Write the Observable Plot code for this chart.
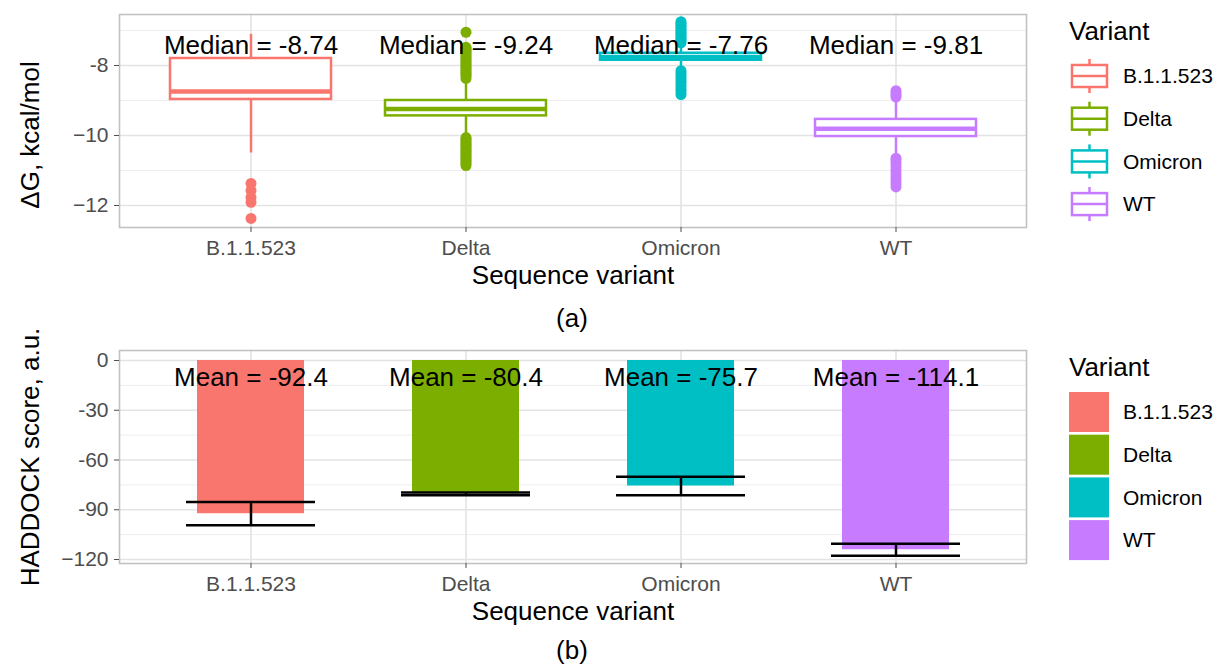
<!DOCTYPE html>
<html><head><meta charset="utf-8">
<script src="https://cdn.jsdelivr.net/npm/d3@7"></script>
<script src="https://cdn.jsdelivr.net/npm/@observablehq/plot@0.6"></script>
<style>
body{margin:0;background:#fff;font-family:"Liberation Sans",Arial,sans-serif;}
#root{position:relative;width:1216px;height:666px;overflow:hidden;background:#fff;}
.panel{position:absolute;left:0;}
.cap{position:absolute;font-size:26px;color:#000;transform:translate(-50%,-50%);white-space:nowrap;}
.leg{position:absolute;left:1050px;}
</style></head><body><div id="root"></div>
<script>
// ---------- data ----------
const variants = ["B.1.1.523", "Delta", "Omicron", "WT"];
const colors = ["#F8766D", "#7CAE00", "#00BFC4", "#C77CFF"];

// panel (a): binding free energy boxplots
const q1 = [-8.97, -9.44, -7.85, -10.03];
const medians = [-8.74, -9.24, -7.76, -9.81];
const q3 = [-7.80, -9.00, -7.65, -9.54];
const whiskerLow = [-10.50, -10.00, -8.08, -10.57];
const whiskerHigh = [-7.11, -8.45, -7.40, -9.00];
const outliersB = [-11.37, -11.57, -11.77, -11.91, -12.37];
const outliersDelta = [-7.05, -7.48, -7.52, -7.56, -7.60, -7.65, -7.70, -7.75, -7.80, -7.85, -7.90, -7.95, -8.00, -8.05, -8.10, -8.15, -8.20, -8.25, -8.30, -8.37,
  -10.06, -10.10, -10.15, -10.20, -10.25, -10.30, -10.35, -10.40, -10.45, -10.50, -10.55, -10.60, -10.65, -10.70, -10.75, -10.80, -10.86];
const outliersOmicron = [-6.75, -6.80, -6.85, -6.90, -6.95, -7.00, -7.05, -7.10, -7.15, -7.20, -7.25, -7.30, -7.35,
  -8.15, -8.22, -8.30, -8.37, -8.45, -8.52, -8.60, -8.68, -8.76, -8.83];
const outliersWT = [-8.72, -8.78, -8.84, -8.90, -10.65, -10.72, -10.80, -10.90, -11.00, -11.10, -11.20, -11.30, -11.38, -11.47];
const aTicks = [-12, -10, -8];
const aTickLabels = ["\u221212", "\u221210", "-8"];
const aMinor = [-11, -9, -7];

// panel (b): HADDOCK scores
const means = [-92.4, -80.4, -75.7, -114.1];
const errLow = [-99.4, -81.2, -81.3, -117.7];
const errHigh = [-85.4, -79.6, -70.1, -110.5];
const bTicks = [-120, -90, -60, -30, 0];
const bTickLabels = ["\u2212120", "-90", "-60", "-30", "0"];
const bMinor = [-105, -75, -45, -15];

const xTitle = "Sequence variant";
const aTitle = "\u0394G, kcal/mol";
const bTitle = "HADDOCK score, a.u.";
const legendTitle = "Variant";

// ---------- tables ----------
const boxData = variants.map((v, i) => ({variant: v, q1: q1[i], median: medians[i], q3: q3[i], lo: whiskerLow[i], hi: whiskerHigh[i]}));
const outlierLists = [outliersB, outliersDelta, outliersOmicron, outliersWT];
const outlierData = variants.flatMap((v, i) => outlierLists[i].map(value => ({variant: v, value})));
const hData = variants.map((v, i) => ({variant: v, mean: means[i], lo: errLow[i], hi: errHigh[i]}));

const FONT = "Liberation Sans, Arial, Helvetica, sans-serif";
const colorScale = {type: "ordinal", domain: variants, range: colors};

function panel({yDomain, ticks, tickLabels, minor, marks, yTitle, titleDy}) {
  return Plot.plot({
    width: 1040, height: 290,
    marginLeft: 119, marginRight: 14, marginTop: 14, marginBottom: 63,
    style: {fontFamily: FONT, background: "transparent", overflow: "visible"},
    x: {type: "band", domain: variants, paddingInner: 0, paddingOuter: 0.1, axis: null},
    y: {domain: yDomain, axis: null},
    color: colorScale,
    marks: [
      Plot.gridY(minor, {stroke: "#ededed", strokeOpacity: 1, strokeWidth: 1}),
      Plot.gridY(ticks, {stroke: "#e3e3e3", strokeOpacity: 1, strokeWidth: 1.6}),
      Plot.gridX(variants, {stroke: "#e3e3e3", strokeOpacity: 1, strokeWidth: 1.6}),
      ...marks,
      Plot.frame({stroke: "#c2c2c2", strokeWidth: 1.6}),
      Plot.axisY(ticks, {label: null, tickFormat: d => tickLabels[ticks.indexOf(d)], tickSize: 5, tickPadding: 6, fontSize: 21, color: "#4d4d4d"}),
      Plot.axisX(variants, {label: null, tickSize: 5, tickPadding: 8, fontSize: 21, color: "#4d4d4d"}),
      Plot.text([yTitle], {frameAnchor: "left", textAnchor: "middle", lineAnchor: "middle", dx: -89, dy: titleDy, rotate: -90, fontSize: 26, fill: "#000"}),
      Plot.text([xTitle], {frameAnchor: "bottom", textAnchor: "middle", lineAnchor: "middle", dy: 48, fontSize: 26, fill: "#000"})
    ]
  });
}

const root = document.getElementById("root");

const plotA = panel({
  yDomain: [-12.629, -6.543], ticks: aTicks, tickLabels: aTickLabels, minor: aMinor, yTitle: aTitle, titleDy: 14,
  marks: [
    Plot.ruleX(boxData, {x: "variant", y1: "lo", y2: "q1", stroke: "variant", strokeWidth: 2.5}),
    Plot.ruleX(boxData, {x: "variant", y1: "q3", y2: "hi", stroke: "variant", strokeWidth: 2.5}),
    Plot.barY(boxData, {x: "variant", y1: "q1", y2: "q3", insetLeft: 27, insetRight: 27, fill: "white", stroke: "variant", strokeWidth: 2.5}),
    Plot.tickY(boxData, {x: "variant", y: "median", insetLeft: 27, insetRight: 27, stroke: "variant", strokeWidth: 4.5}),
    Plot.dot(outlierData, {x: "variant", y: "value", r: 5.5, fill: "variant", stroke: null}),
    Plot.text(boxData, {x: "variant", y: () => -7.43, text: d => `Median = ${d.median.toFixed(2)}`, fontSize: 26, fill: "#000"})
  ]
});
plotA.classList.add("panel"); plotA.style.top = "0px";
root.appendChild(plotA);

const plotB = panel({
  yDomain: [-122.41, 6.03], ticks: bTicks, tickLabels: bTickLabels, minor: bMinor, yTitle: bTitle, titleDy: 0,
  marks: [
    Plot.barY(hData, {x: "variant", y: "mean", fill: "variant", insetLeft: 54, insetRight: 54}),
    Plot.ruleX(hData, {x: "variant", y1: "lo", y2: "hi", stroke: "black", strokeWidth: 2.5}),
    Plot.tickY(hData, {x: "variant", y: "lo", insetLeft: 43, insetRight: 43, stroke: "black", strokeWidth: 2.5}),
    Plot.tickY(hData, {x: "variant", y: "hi", insetLeft: 43, insetRight: 43, stroke: "black", strokeWidth: 2.5}),
    Plot.text(hData, {x: "variant", y: () => -10.2, text: d => `Mean = ${d.mean.toFixed(1)}`, fontSize: 26, fill: "#000"})
  ]
});
plotB.classList.add("panel"); plotB.style.top = "336px";
root.appendChild(plotB);

// captions
[["(a)", 572, 318], ["(b)", 572, 650]].forEach(([t, x, y]) => {
  const d = document.createElement("div");
  d.className = "cap"; d.textContent = t;
  d.style.left = x + "px"; d.style.top = y + "px";
  root.appendChild(d);
});

// legends
function legend(top, kind) {
  const svg = d3.create("svg").attr("class", "leg").attr("width", 166).attr("height", 240)
    .style("top", top + "px").style("font-family", FONT);
  svg.append("text").attr("x", 19).attr("y", 31).attr("dy", "0.35em").attr("font-size", 26).attr("fill", "#000").text(legendTitle);
  variants.forEach((v, i) => {
    const cy = 76 + 42.7 * i;
    const g = svg.append("g");
    if (kind === "box") {
      g.append("line").attr("x1", 39.5).attr("x2", 39.5).attr("y1", cy - 17).attr("y2", cy + 17).attr("stroke", colors[i]).attr("stroke-width", 2.5);
      g.append("rect").attr("x", 22).attr("y", cy - 11).attr("width", 35).attr("height", 22).attr("fill", "white").attr("stroke", colors[i]).attr("stroke-width", 2.5);
      g.append("line").attr("x1", 22).attr("x2", 57).attr("y1", cy).attr("y2", cy).attr("stroke", colors[i]).attr("stroke-width", 2.5);
    } else {
      g.append("rect").attr("x", 19).attr("y", cy - 20).attr("width", 40).attr("height", 40).attr("fill", colors[i]);
    }
    g.append("text").attr("x", 73).attr("y", cy).attr("dy", "0.35em").attr("font-size", 21).attr("fill", "#000").text(v);
  });
  root.appendChild(svg.node());
}
legend(0, "box");
legend(336, "fill");
</script></body></html>
